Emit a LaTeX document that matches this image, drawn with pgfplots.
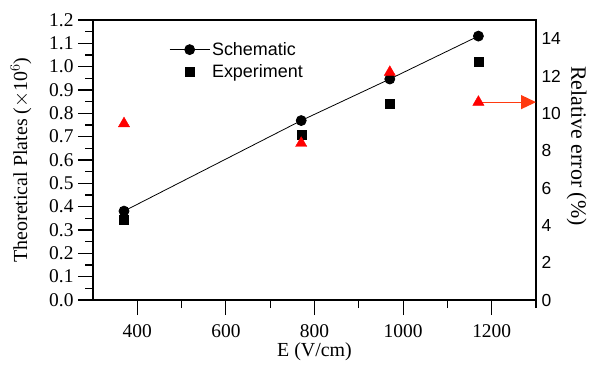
\documentclass[border=0pt]{standalone}
\usepackage{fontspec}
\setmainfont{Liberation Serif}
\newfontfamily\arialfont{Liberation Sans}
\usepackage{pgfplots}
\pgfplotsset{compat=1.18}
\usetikzlibrary{arrows.meta}
\definecolor{arrowred}{HTML}{FF3A10}
\begin{document}
\begin{tikzpicture}
\begin{axis}[
  scale only axis, width=443bp, height=280bp,
  xmin=300, xmax=1300, ymin=0, ymax=1.2,
  xtick={400,600,...,1200},
  minor xtick={500,700,...,1300},
  ytick={0,0.1,...,1.21},
  minor ytick={0.05,0.15,...,1.2},
  tick align=outside,
  xtick pos=bottom, ytick pos=left,
  major tick length=15bp, minor tick length=8bp,
  every tick/.style={black, line width=1.2pt},
  axis line style={line width=1.2pt},
  /pgf/number format/assume math mode=true,
  yticklabel style={font=\fontsize{19.5}{22}\selectfont, xshift=-1bp, /pgf/number format/.cd, fixed, fixed zerofill, precision=1},
  xticklabel style={font=\fontsize{19.5}{22}\selectfont, yshift=-6bp, /pgf/number format/1000 sep={}},
  label style={font=\fontsize{20}{23}\selectfont},
  xlabel style={yshift=2bp},
  ylabel style={yshift=11bp},
  xlabel={E (V/cm)},
  ylabel={Theoretical Plates ($\times$10$^6$)},
  legend style={at={(0.165,0.935)}, anchor=north west, draw=none, fill=none,
    font=\arialfont\fontsize{18}{21}\selectfont, row sep=4bp},
  legend image code/.code={\draw[mark repeat=2,mark phase=2,#1] plot coordinates {(0bp,0bp) (20bp,0bp) (40bp,0bp)};},
  legend cell align=left,
]
\addplot[black, line width=0.8pt, mark=*, mark size=5bp] coordinates {
  (370,0.381) (770,0.769) (970,0.947) (1170,1.131)};
\addlegendentry{Schematic}
\addplot[black, only marks, mark=square*, mark size=4.5bp] coordinates {
  (370,0.345) (770,0.707) (970,0.843) (1170,1.021)};
\addlegendentry{Experiment}
\end{axis}
\begin{axis}[
  scale only axis, width=443bp, height=280bp,
  xmin=300, xmax=1300, ymin=0, ymax=15,
  axis x line=none, axis y line*=right,
  ytick={0,2,...,14},
  major tick length=0bp,
  axis line style={line width=1.2pt},
  /pgf/number format/assume math mode=true,
  yticklabel style={font=\arialfont\fontsize{17.5}{20}\selectfont, xshift=2bp},
  ylabel={Relative error (\%)},
  ylabel style={font=\fontsize{22}{25}\selectfont, rotate=180, yshift=-1bp, xshift=-14bp},
  clip=false,
]
\addplot[red, only marks, mark=triangle*, mark size=6.5bp] coordinates {
  (370,9.45) (770,8.4) (970,12.2) (1170,10.6)};
\draw[arrowred, line width=1.2pt, -{Triangle[length=15bp,width=14bp]}] (axis cs:1170,10.6) -- (axis cs:1300,10.6);
\end{axis}
\pgfresetboundingbox
\path[use as bounding box] (-93bp,-66bp) rectangle (499bp,300bp);
\end{tikzpicture}
\end{document}
